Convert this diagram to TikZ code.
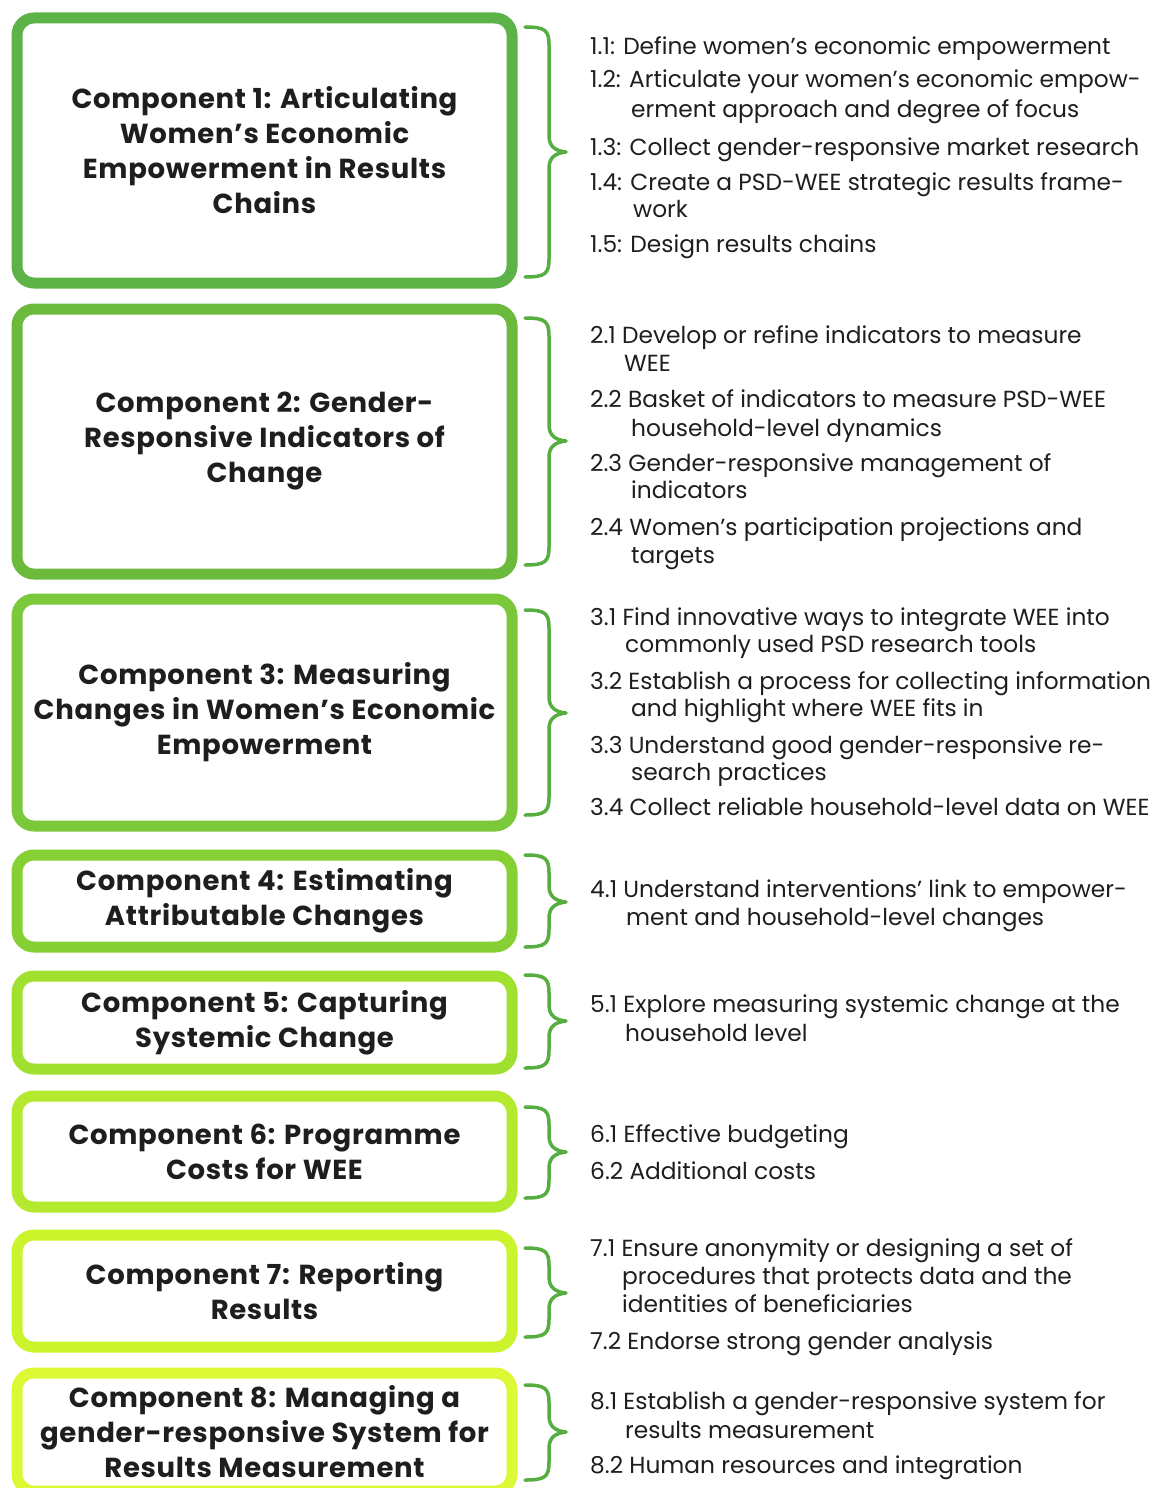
\documentclass[tikz,border=0pt]{standalone}
\usepackage{fontspec}
\setmainfont{Poppins}
\newfontfamily\titlefont[LetterSpace=2.5]{Poppins}
\definecolor{c1}{HTML}{5DB347}
\definecolor{c2}{HTML}{6BBA3C}
\definecolor{c3}{HTML}{7CC83B}
\definecolor{c4}{HTML}{86D033}
\definecolor{c5}{HTML}{9FE12E}
\definecolor{c6}{HTML}{B3EA2D}
\definecolor{c7}{HTML}{CCF42C}
\definecolor{c8}{HTML}{DDF835}
\definecolor{bracecol}{HTML}{55AE3F}
\definecolor{txt}{HTML}{1E1E1E}
\newcommand\cbrace[3]{%
  \draw[brc] (525,#1) .. controls (545,#1) and (549,#1+3) .. (549,#1+18)
    -- (549,#2-16) .. controls (549,#2-5) and (556,#2-1) .. (566,#2)
    .. controls (556,#2+1) and (549,#2+5) .. (549,#2+16)
    -- (549,#3-18) .. controls (549,#3-3) and (545,#3) .. (525,#3);}
\begin{document}
\begin{tikzpicture}[x=1pt,y=-1pt,
  box/.style={draw=#1, line width=11pt, rounded corners=17pt, minimum width=495pt,
    align=center, font=\titlefont\bfseries\fontsize{27.5}{35}\selectfont, text=txt, inner sep=0pt},
  brc/.style={draw=bracecol, line width=3.5pt, line cap=round, line join=round},
  it/.style={anchor=base west, inner sep=0pt, font=\fontsize{23.3}{28}\selectfont, text=txt}]
\useasboundingbox (0,0) rectangle (1157,1488);
\clip (0,0) rectangle (1157,1488);
\fill[white] (0,0) rectangle (1157,1488);
% component boxes
\node[box=c1, minimum height=265pt] (b1) at (264.5,150.5) {Component 1: Articulating\\Women’s Economic\\Empowerment in Results\\Chains};
\node[box=c2, minimum height=265pt] (b2) at (264.5,441.5) {Component 2: Gender-\\Responsive Indicators of\\Change};
\node[box=c3, minimum height=227pt] (b3) at (264.5,712.5) {Component 3: Measuring\\Changes in Women’s Economic\\Empowerment};
\node[box=c4, minimum height=92pt] (b4) at (264.5,901) {Component 4: Estimating\\Attributable Changes};
\node[box=c5, minimum height=93pt] (b5) at (264.5,1022.5) {Component 5: Capturing\\Systemic Change};
\node[box=c6, minimum height=111pt] (b6) at (264.5,1151.5) {Component 6: Programme\\Costs for WEE};
\node[box=c7, minimum height=112pt] (b7) at (264.5,1291) {Component 7: Reporting\\Results};
\node[box=c8, minimum height=118pt] (b8) at (264.5,1432) {Component 8: Managing a\\gender-responsive System for\\Results Measurement};
% braces
\cbrace{27}{152}{277}
\cbrace{318}{441}{565}
\cbrace{610}{713}{815}
\cbrace{855}{902}{947}
\cbrace{975}{1021}{1068}
\cbrace{1107}{1152}{1198}
\cbrace{1248}{1293}{1337}
\cbrace{1385}{1432}{1480}
% items 1
\node[it] (t11) at (590,55) {1.1: Define women’s economic empowerment};
\node[it] (t12) at (590,88) {1.2: Articulate your women’s economic empow-};
\node[it] (t12b) at (631,117) {erment approach and degree of focus};
\node[it] (t13) at (590,155) {1.3: Collect gender-responsive market research};
\node[it] (t14) at (590,190) {1.4: Create a PSD-WEE strategic results frame-};
\node[it] (t14b) at (633,217) {work};
\node[it] (t15) at (590,252) {1.5: Design results chains};
% items 2
\node[it] (t21) at (590,343) {2.1 Develop or refine indicators to measure};
\node[it] (t21b) at (624,371) {WEE};
\node[it] (t22) at (590,407) {2.2 Basket of indicators to measure PSD-WEE};
\node[it] (t22b) at (631,436) {household-level dynamics};
\node[it] (t23) at (590,471) {2.3 Gender-responsive management of};
\node[it] (t23b) at (631,498) {indicators};
\node[it] (t24) at (590,535) {2.4 Women’s participation projections and};
\node[it] (t24b) at (631,563) {targets};
% items 3
\node[it] (t31) at (590,625) {3.1 Find innovative ways to integrate WEE into};
\node[it] (t31b) at (625,652) {commonly used PSD research tools};
\node[it] (t32) at (590,689) {3.2 Establish a process for collecting information};
\node[it] (t32b) at (631,716) {and highlight where WEE fits in};
\node[it] (t33) at (590,753) {3.3 Understand good gender-responsive re-};
\node[it] (t33b) at (631,780) {search practices};
\node[it] (t34) at (590,815) {3.4 Collect reliable household-level data on WEE};
% items 4-8
\node[it] (t41) at (590,897) {4.1 Understand interventions’ link to empower-};
\node[it] (t41b) at (626,925) {ment and household-level changes};
\node[it] (t51) at (590,1012) {5.1 Explore measuring systemic change at the};
\node[it] (t51b) at (625,1041) {household level};
\node[it] (t61) at (590,1142) {6.1 Effective budgeting};
\node[it] (t62) at (590,1179) {6.2 Additional costs};
\node[it] (t71) at (590,1256) {7.1 Ensure anonymity or designing a set of};
\node[it] (t71b) at (622,1284) {procedures that protects data and the};
\node[it] (t71c) at (622,1312) {identities of beneficiaries};
\node[it] (t72) at (590,1349) {7.2 Endorse strong gender analysis};
\node[it] (t81) at (590,1409) {8.1 Establish a gender-responsive system for};
\node[it] (t81b) at (625,1438) {results measurement};
\node[it] (t82) at (590,1473) {8.2 Human resources and integration};
\end{tikzpicture}
\end{document}
